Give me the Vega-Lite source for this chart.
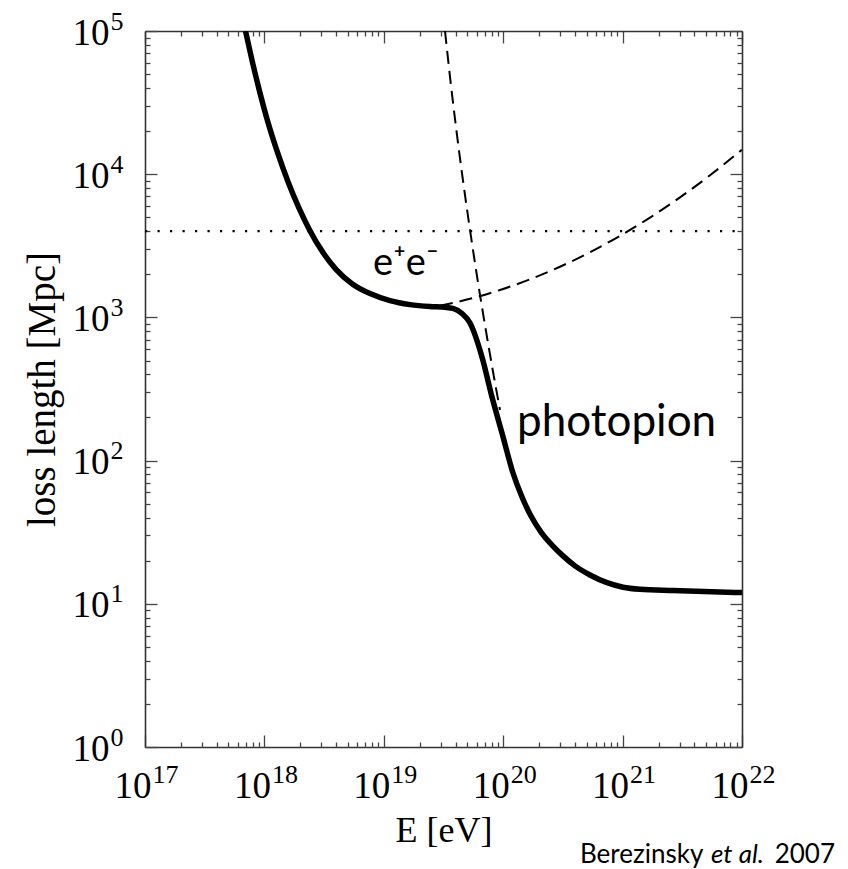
{
  "$schema": "https://vega.github.io/schema/vega-lite/v6.json",
  "width": 597,
  "height": 716,
  "autosize": {"type": "none"},
  "padding": {"left": 145, "top": 31, "right": 106, "bottom": 122},
  "background": "white",
  "config": {"view": {"stroke": null}, "axis": {"grid": false}},
  "datasets": {
    "total": [
      {"E": 6.946e17, "L": 100000},
      {"E": 7.874e17, "L": 62480},
      {"E": 9.01e17, "L": 39380},
      {"E": 1.0515e18, "L": 24310},
      {"E": 1.2752e18, "L": 14530},
      {"E": 1.5771e18, "L": 8858},
      {"E": 1.949e18, "L": 5794},
      {"E": 2.409e18, "L": 4031},
      {"E": 3.037e18, "L": 2904},
      {"E": 3.979e18, "L": 2167},
      {"E": 5.416e18, "L": 1719},
      {"E": 7.663e18, "L": 1466},
      {"E": 1.127e19, "L": 1310},
      {"E": 1.658e19, "L": 1228},
      {"E": 2.437e19, "L": 1190},
      {"E": 3.255e19, "L": 1177},
      {"E": 3.798e19, "L": 1157},
      {"E": 4.517e19, "L": 1065},
      {"E": 5.273e19, "L": 914},
      {"E": 6.643e19, "L": 529},
      {"E": 8.058e19, "L": 278},
      {"E": 9.77e19, "L": 155.8},
      {"E": 1.2081e20, "L": 81.9},
      {"E": 1.4372e20, "L": 55.7},
      {"E": 1.7093e20, "L": 41.0},
      {"E": 2.073e20, "L": 31.7},
      {"E": 2.563e20, "L": 25.7},
      {"E": 3.169e20, "L": 21.6},
      {"E": 3.993e20, "L": 18.4},
      {"E": 5.333e20, "L": 15.89},
      {"E": 7.4e20, "L": 14.04},
      {"E": 1.008e21, "L": 13.06},
      {"E": 1.399e21, "L": 12.63},
      {"E": 2.643e21, "L": 12.37},
      {"E": 9.62e21, "L": 11.99},
      {"E": 1e22, "L": 11.98}
    ],
    "pair": [
      {"E": 2.957e19, "L": 1205},
      {"E": 5.273e19, "L": 1348},
      {"E": 9.4e19, "L": 1554},
      {"E": 1.677e20, "L": 1845},
      {"E": 2.991e20, "L": 2259},
      {"E": 5.333e20, "L": 2853},
      {"E": 9.51e20, "L": 3714},
      {"E": 1.696e21, "L": 4976},
      {"E": 3.025e21, "L": 6887},
      {"E": 5.395e21, "L": 9824},
      {"E": 1e22, "L": 14840}
    ],
    "photopion": [
      {"E": 3.255e19, "L": 100000},
      {"E": 3.61e19, "L": 45480},
      {"E": 4.053e19, "L": 20350},
      {"E": 4.598e19, "L": 9110},
      {"E": 5.273e19, "L": 4077},
      {"E": 6.106e19, "L": 1825},
      {"E": 7.15e19, "L": 816.6},
      {"E": 8.455e19, "L": 365.5},
      {"E": 9.4e19, "L": 225.6}
    ],
    "horizon": [
      {"E": 1e17, "L": 4000},
      {"E": 1e22, "L": 4000}
    ],
    "labels": [
      {"E": 8.13e18, "L": 1977, "text": "e⁺e⁻"},
      {"E": 1.306e20, "L": 148.6, "text": "photopion"}
    ]
  },
  "resolve": {
    "scale": {"x": "shared", "y": "shared"},
    "axis": {"x": "independent", "y": "independent"}
  },
  "layer": [
    {
      "data": {"name": "total"},
      "mark": {"type": "line", "color": "black", "strokeWidth": 5.5, "interpolate": "monotone", "clip": true},
      "encoding": {
        "x": {
          "field": "E", "type": "quantitative",
          "scale": {"type": "log", "domain": [1e17, 1e22], "nice": false},
          "axis": {
            "orient": "bottom",
            "values": [1e17, 1e18, 1e19, 1e20, 1e21, 1e22],
            "ticks": false,
            "domain": true, "domainColor": "#333", "domainWidth": 1.6,
            "labelExpr": "'10'",
            "labelFont": "Liberation Serif", "labelFontSize": 37, "labelColor": "black",
            "labelAlign": "right", "labelBaseline": "alphabetic", "labelOffset": 6,
            "labelPadding": 50, "labelFlush": false, "labelOverlap": false,
            "title": "E [eV]", "titleFont": "Liberation Serif", "titleFontSize": 36,
            "titleFontWeight": "normal", "titleColor": "black", "titlePadding": 9
          }
        },
        "y": {
          "field": "L", "type": "quantitative",
          "scale": {"type": "log", "domain": [1, 100000], "nice": false},
          "axis": {
            "orient": "left",
            "values": [1, 10, 100, 1000, 10000, 100000],
            "ticks": false,
            "domain": true, "domainColor": "#333", "domainWidth": 1.6,
            "labelExpr": "'10'",
            "labelFont": "Liberation Serif", "labelFontSize": 37, "labelColor": "black",
            "labelAlign": "right", "labelBaseline": "alphabetic", "labelOffset": 13,
            "labelPadding": 36, "labelFlush": false, "labelOverlap": false,
            "title": "loss length [Mpc]", "titleFont": "Liberation Serif", "titleFontSize": 39,
            "titleFontWeight": "normal", "titleColor": "black", "titlePadding": 10
          }
        }
      }
    },
    {
      "data": {"name": "pair"},
      "mark": {"type": "line", "color": "black", "strokeWidth": 2, "strokeDash": [13, 7], "interpolate": "monotone", "clip": true},
      "encoding": {
        "x": {
          "field": "E", "type": "quantitative",
          "scale": {"type": "log", "domain": [1e17, 1e22], "nice": false},
          "axis": {
            "orient": "bottom", "values": [1e17, 1e18, 1e19, 1e20, 1e21, 1e22],
            "tickSize": -12, "tickColor": "#444", "tickWidth": 1.3,
            "labels": false, "domain": false, "title": null
          }
        },
        "y": {
          "field": "L", "type": "quantitative",
          "scale": {"type": "log", "domain": [1, 100000], "nice": false},
          "axis": {
            "orient": "left", "values": [1, 10, 100, 1000, 10000, 100000],
            "tickSize": -12, "tickColor": "#444", "tickWidth": 1.3,
            "labels": false, "domain": false, "title": null
          }
        }
      }
    },
    {
      "data": {"name": "photopion"},
      "mark": {"type": "line", "color": "black", "strokeWidth": 2, "strokeDash": [13, 7], "interpolate": "monotone", "clip": true},
      "encoding": {
        "x": {
          "field": "E", "type": "quantitative",
          "scale": {"type": "log", "domain": [1e17, 1e22], "nice": false},
          "axis": {
            "orient": "bottom",
            "values": [2e17, 3e17, 4e17, 5e17, 6e17, 7e17, 8e17, 9e17, 2e18, 3e18, 4e18, 5e18, 6e18, 7e18, 8e18, 9e18, 2e19, 3e19, 4e19, 5e19, 6e19, 7e19, 8e19, 9e19, 2e20, 3e20, 4e20, 5e20, 6e20, 7e20, 8e20, 9e20, 2e21, 3e21, 4e21, 5e21, 6e21, 7e21, 8e21, 9e21],
            "tickSize": -5, "tickColor": "#444", "tickWidth": 1.3,
            "labels": false, "domain": false, "title": null
          }
        },
        "y": {
          "field": "L", "type": "quantitative",
          "scale": {"type": "log", "domain": [1, 100000], "nice": false},
          "axis": {
            "orient": "left",
            "values": [2, 3, 4, 5, 6, 7, 8, 9, 20, 30, 40, 50, 60, 70, 80, 90, 200, 300, 400, 500, 600, 700, 800, 900, 2000, 3000, 4000, 5000, 6000, 7000, 8000, 9000, 20000, 30000, 40000, 50000, 60000, 70000, 80000, 90000],
            "tickSize": -5, "tickColor": "#444", "tickWidth": 1.3,
            "labels": false, "domain": false, "title": null
          }
        }
      }
    },
    {
      "data": {"name": "horizon"},
      "mark": {"type": "line", "color": "black", "strokeWidth": 2.2, "strokeDash": [2.2, 10.3], "clip": true},
      "encoding": {
        "x": {
          "field": "E", "type": "quantitative",
          "scale": {"type": "log", "domain": [1e17, 1e22], "nice": false},
          "axis": {
            "orient": "top", "values": [1e17, 1e18, 1e19, 1e20, 1e21, 1e22],
            "tickSize": -12, "tickColor": "#444", "tickWidth": 1.3,
            "labels": false, "domain": true, "domainColor": "#333", "domainWidth": 1.6, "title": null
          }
        },
        "y": {
          "field": "L", "type": "quantitative",
          "scale": {"type": "log", "domain": [1, 100000], "nice": false},
          "axis": {
            "orient": "right", "values": [1, 10, 100, 1000, 10000, 100000],
            "tickSize": -12, "tickColor": "#444", "tickWidth": 1.3,
            "labels": false, "domain": true, "domainColor": "#333", "domainWidth": 1.6, "title": null
          }
        }
      }
    },
    {
      "data": {"name": "labels"},
      "mark": {"type": "text", "font": "Lato, Noto Sans, sans-serif", "fontSize": 41, "align": "left", "baseline": "alphabetic", "color": "black"},
      "encoding": {
        "x": {
          "field": "E", "type": "quantitative",
          "scale": {"type": "log", "domain": [1e17, 1e22], "nice": false},
          "axis": {
            "orient": "top",
            "values": [2e17, 3e17, 4e17, 5e17, 6e17, 7e17, 8e17, 9e17, 2e18, 3e18, 4e18, 5e18, 6e18, 7e18, 8e18, 9e18, 2e19, 3e19, 4e19, 5e19, 6e19, 7e19, 8e19, 9e19, 2e20, 3e20, 4e20, 5e20, 6e20, 7e20, 8e20, 9e20, 2e21, 3e21, 4e21, 5e21, 6e21, 7e21, 8e21, 9e21],
            "tickSize": -5, "tickColor": "#444", "tickWidth": 1.3,
            "labels": false, "domain": false, "title": null
          }
        },
        "y": {
          "field": "L", "type": "quantitative",
          "scale": {"type": "log", "domain": [1, 100000], "nice": false},
          "axis": {
            "orient": "right",
            "values": [2, 3, 4, 5, 6, 7, 8, 9, 20, 30, 40, 50, 60, 70, 80, 90, 200, 300, 400, 500, 600, 700, 800, 900, 2000, 3000, 4000, 5000, 6000, 7000, 8000, 9000, 20000, 30000, 40000, 50000, 60000, 70000, 80000, 90000],
            "tickSize": -5, "tickColor": "#444", "tickWidth": 1.3,
            "labels": false, "domain": false, "title": null
          }
        },
        "text": {"field": "text"},
        "size": {
          "field": "text", "type": "nominal",
          "scale": {"domain": ["e⁺e⁻", "photopion"], "range": [38, 44]},
          "legend": null
        }
      }
    },
    {
      "data": {"values": [{"E": 4.398e20, "L": 0.1549, "text": "Berezinsky"}]},
      "mark": {"type": "text", "font": "Lato, Noto Sans, sans-serif", "fontSize": 26, "align": "left", "baseline": "alphabetic", "color": "black"},
      "encoding": {
        "x": {
          "field": "E", "type": "quantitative",
          "scale": {"type": "log", "domain": [1e17, 1e22], "nice": false},
          "axis": {
            "orient": "bottom",
            "values": [1e17, 1e18, 1e19, 1e20, 1e21, 1e22],
            "ticks": false, "domain": false, "title": null,
            "labelExpr": "datum.value < 3e17 ? '17' : datum.value < 3e18 ? '18' : datum.value < 3e19 ? '19' : datum.value < 3e20 ? '20' : datum.value < 3e21 ? '21' : '22'",
            "labelFont": "Liberation Serif", "labelFontSize": 26, "labelColor": "black",
            "labelAlign": "left", "labelBaseline": "alphabetic", "labelOffset": 7,
            "labelPadding": 35, "labelFlush": false, "labelOverlap": false
          }
        },
        "y": {
          "field": "L", "type": "quantitative",
          "scale": {"type": "log", "domain": [1, 100000], "nice": false},
          "axis": {
            "orient": "left",
            "values": [1, 10, 100, 1000, 10000, 100000],
            "ticks": false, "domain": false, "title": null,
            "labelExpr": "datum.value < 3 ? '0' : datum.value < 30 ? '1' : datum.value < 300 ? '2' : datum.value < 3000 ? '3' : datum.value < 30000 ? '4' : '5'",
            "labelFont": "Liberation Serif", "labelFontSize": 26, "labelColor": "black",
            "labelAlign": "right", "labelBaseline": "alphabetic", "labelOffset": -2,
            "labelPadding": 22, "labelFlush": false, "labelOverlap": false
          }
        },
        "text": {"field": "text"}
      }
    },
    {
      "data": {"values": [{"E": 5.5e21, "L": 0.1549, "text": "et al."}]},
      "mark": {"type": "text", "font": "Lato, Noto Sans, sans-serif", "fontSize": 26, "fontStyle": "italic", "align": "left", "baseline": "alphabetic", "color": "black"},
      "encoding": {
        "x": {"field": "E", "type": "quantitative", "scale": {"type": "log", "domain": [1e17, 1e22], "nice": false}, "axis": null},
        "y": {"field": "L", "type": "quantitative", "scale": {"type": "log", "domain": [1, 100000], "nice": false}, "axis": null},
        "text": {"field": "text"}
      }
    },
    {
      "data": {"values": [{"E": 6.01e22, "L": 0.1549, "text": "2007"}]},
      "mark": {"type": "text", "font": "Lato, Noto Sans, sans-serif", "fontSize": 26, "align": "right", "baseline": "alphabetic", "color": "black"},
      "encoding": {
        "x": {"field": "E", "type": "quantitative", "scale": {"type": "log", "domain": [1e17, 1e22], "nice": false}, "axis": null},
        "y": {"field": "L", "type": "quantitative", "scale": {"type": "log", "domain": [1, 100000], "nice": false}, "axis": null},
        "text": {"field": "text"}
      }
    }
  ]
}
